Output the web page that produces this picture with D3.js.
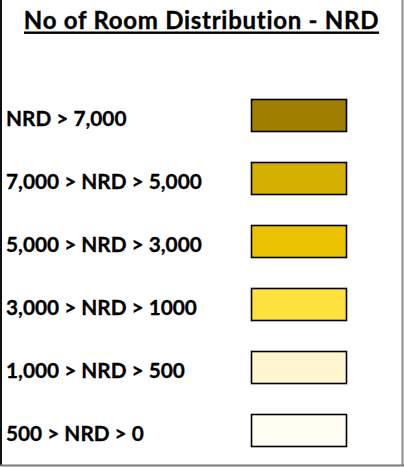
<!DOCTYPE html>
<html><head><meta charset="utf-8">
<script src="https://cdn.jsdelivr.net/npm/d3@7"></script>
<style>html,body{margin:0;padding:0;background:#fff;}</style>
</head><body>
<svg id="c" width="404" height="467"></svg>
<script>
const title = "No of Room Distribution - NRD";
const categories = ["NRD > 7,000","7,000 > NRD > 5,000","5,000 > NRD > 3,000","3,000 > NRD > 1000","1,000 > NRD > 500","500 > NRD > 0"];
const colors = ["#a07f00","#d6b000","#ebc300","#ffe13d","#fff6cf","#fffdf2"];

const svg = d3.select("#c");
svg.append("rect").attr("x",0).attr("y",0).attr("width",404).attr("height",467).attr("fill","#fff");
// borders
svg.append("line").attr("x1",1).attr("x2",1).attr("y1",0).attr("y2",466).attr("stroke","#111").attr("stroke-width",2);
svg.append("line").attr("x1",402.5).attr("x2",402.5).attr("y1",0).attr("y2",466).attr("stroke","#8a8a8a").attr("stroke-width",2);
svg.append("line").attr("x1",0).attr("x2",404).attr("y1",465.5).attr("y2",465.5).attr("stroke","#7a7a7a").attr("stroke-width",2);

const font = "Lato, 'Open Sans', sans-serif";
const t = svg.append("text").attr("x",201.5).attr("y",29).attr("text-anchor","middle")
  .attr("font-family",font).attr("font-weight","bold").attr("font-size",24)
  .attr("fill","#000").attr("stroke","#000").attr("stroke-width",0.35).text(title);
// widen with letter spacing to the target width
const w0 = t.node().getComputedTextLength();
const ls = (355 - w0) / (title.length - 1);
t.attr("letter-spacing", ls);
const tl = 355;
svg.append("rect").attr("x",201.5-tl/2).attr("y",31.5).attr("width",tl).attr("height",2.4).attr("fill","#000");

const y = d3.scaleBand().domain(categories).range([84,462]).paddingInner(0).paddingOuter(0);
const sh = 32;
const g = svg.append("g");
const rows = g.selectAll("g.row").data(categories).join("g").attr("class","row");
rows.append("rect").attr("x",251.5).attr("y",(d)=>y(d)+y.bandwidth()/2-sh/2)
  .attr("width",95).attr("height",sh)
  .attr("fill",(d,i)=>colors[i]).attr("stroke","#000").attr("stroke-width",1.6);
const labels = rows.append("text").attr("x",6).attr("y",(d)=>y(d)+y.bandwidth()/2+10)
  .attr("font-family",font).attr("font-weight","bold").attr("fill","#000")
  .attr("stroke","#000").attr("stroke-width",0.3).text(d=>d);
const probe = labels.filter((d,i)=>i===1);
probe.attr("font-size",20);
const fs = 20*196/probe.node().getComputedTextLength();
labels.attr("font-size",fs);
</script>
</body></html>
